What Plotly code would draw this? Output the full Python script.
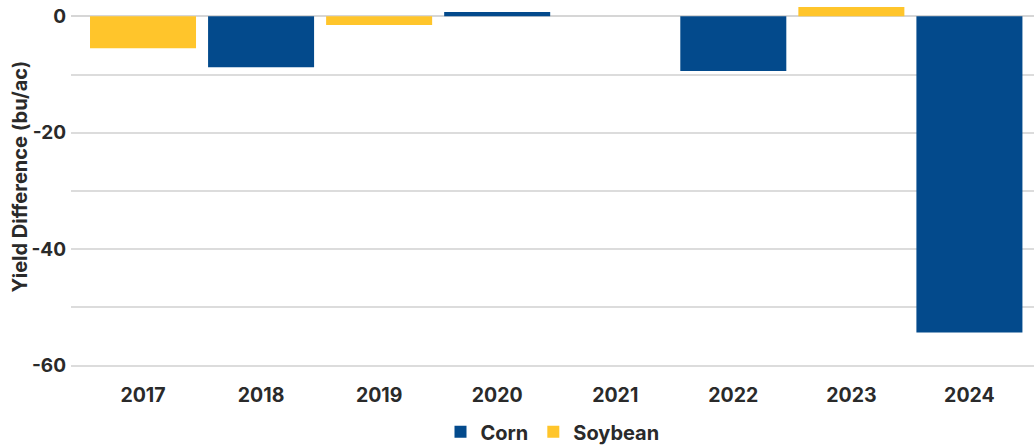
import plotly.graph_objects as go

years = ["2017", "2018", "2019", "2020", "2021", "2022", "2023", "2024"]
corn = [None, -8.76, None, 0.74, None, -9.39, None, -54.3]
soybean = [-5.5, None, -1.49, None, None, None, 1.6, None]
y_tick_vals = [0, -20, -40, -60]
y_tick_text = ["0", "-20", "-40", "-60"]

CORN_COLOR = "#034A8C"
SOY_COLOR = "#FFC52B"
FONT = "Inter"

fig = go.Figure()
fig.add_trace(go.Bar(x=years, y=corn, name="Corn", marker=dict(color=CORN_COLOR, line=dict(width=0))))
fig.add_trace(go.Bar(x=years, y=soybean, name="Soybean", marker=dict(color=SOY_COLOR, line=dict(width=0))))

fig.update_layout(
    width=1034, height=447,
    margin=dict(l=71, r=0, t=0, b=72),
    barmode="overlay", bargap=0.102,
    plot_bgcolor="white", paper_bgcolor="white",
    font=dict(family=FONT, size=19, color="#2a2a2a", weight="bold"),
    showlegend=True,
    legend=dict(orientation="h", x=0.5, xanchor="center", yref="container", y=0.034, yanchor="middle",
                font=dict(size=20, color="#2a2a2a", weight="bold"),
                tracegroupgap=0, traceorder="normal", itemwidth=30),
    xaxis=dict(type="category", range=[-0.61, 7.547], showgrid=False, showline=False, automargin=False,
               ticks="", ticklabelstandoff=6, tickfont=dict(size=19.5, color="#2a2a2a", weight="bold")),
    yaxis=dict(range=[-61.6, 2.8], tickvals=y_tick_vals, ticktext=y_tick_text,
               showgrid=True, gridcolor="#dcdcdc", gridwidth=1.5, automargin=False,
               zeroline=True, zerolinecolor="#d6d6d6", zerolinewidth=1.5,
               minor=dict(dtick=10, tick0=0, showgrid=True, gridcolor="#dcdcdc", gridwidth=1.5),
               ticks="", ticklabelstandoff=4,
               tickfont=dict(size=19, color="#2a2a2a", weight="bold")),
    annotations=[dict(text="Yield Difference (bu/ac)", xref="paper", yref="paper",
                      x=-71/963 + 19.5/963, xanchor="center",
                      y=1 - (177 - 0) / 375, yanchor="middle", textangle=-90, showarrow=False,
                      font=dict(size=20, color="#2a2a2a", weight="bold"))],
)

fig.write_html("out.html", config={"displayModeBar": False},
               post_script="document.body.style.margin='0';document.body.style.padding='0';")
